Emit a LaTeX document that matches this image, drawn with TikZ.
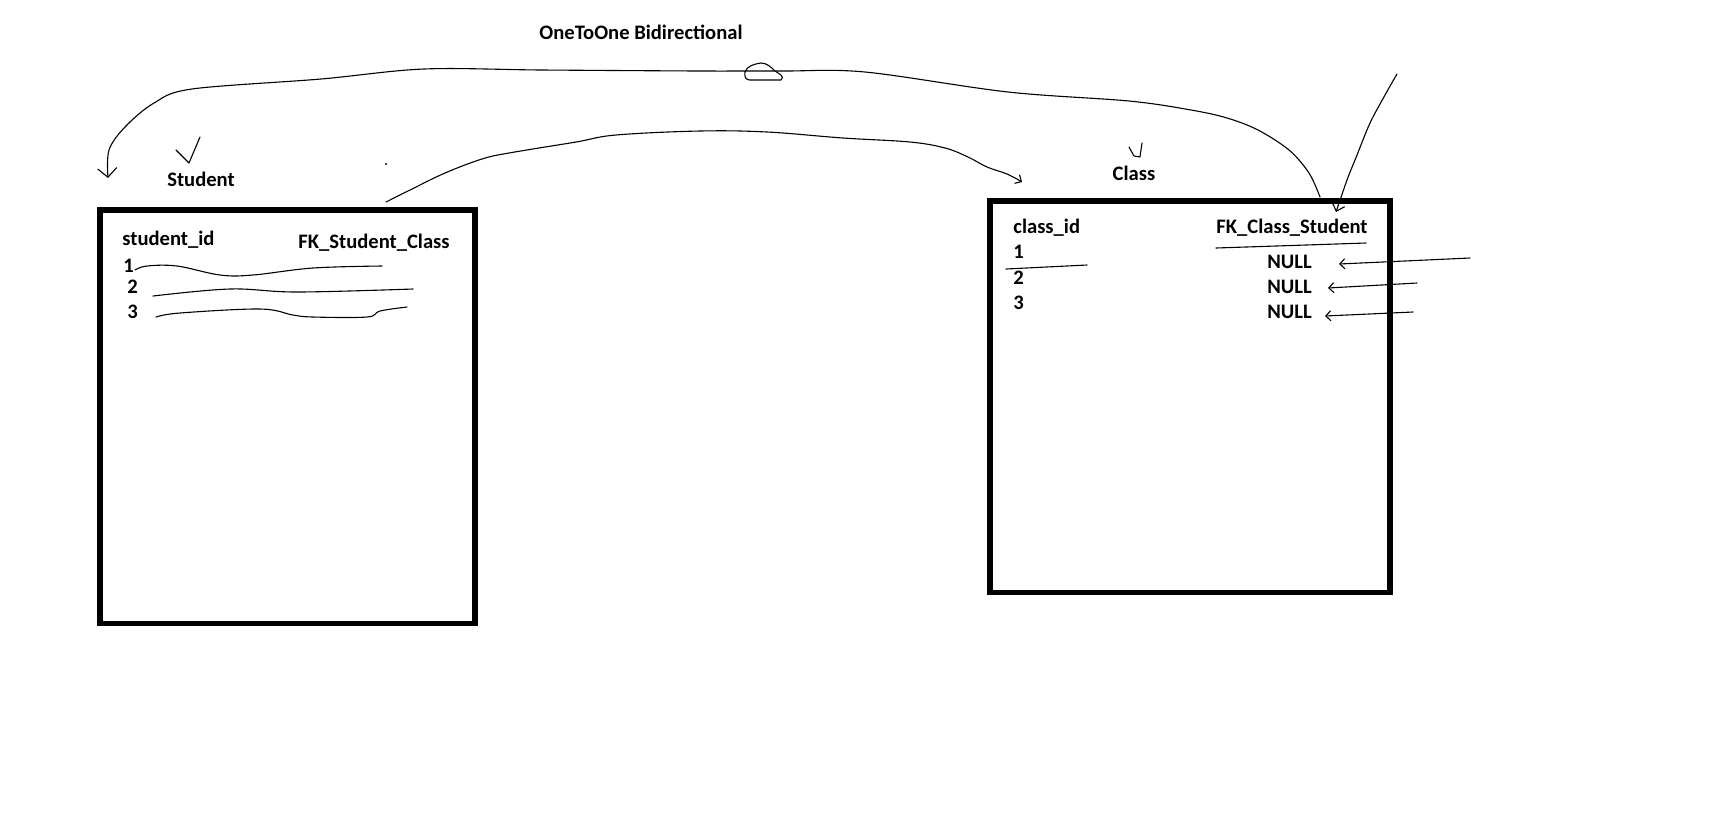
\documentclass[tikz,border=0pt]{standalone}
\usepackage{fontspec}
\setmainfont{Carlito}
\usetikzlibrary{arrows.meta}
\begin{document}
\begin{tikzpicture}[x=0.5pt,y=-0.5pt,
  lbl/.style={font=\fontsize{10.3}{12}\selectfont\bfseries, inner sep=0pt},
  tl/.style={lbl, anchor=base west},
  tbl/.style={draw, line width=2.75pt, inner sep=0pt},
  pen/.style={line width=0.55pt, line cap=round, line join=round},
  bigtip/.style={-{Straight Barb[length=4.5pt,width=9.5pt]}},
  midtip/.style={-{Straight Barb[length=3.5pt,width=6.5pt]}},
  smalltip/.style={-{Straight Barb[length=2.5pt,width=5pt]}}]
\useasboundingbox (0,0) rectangle (1730,816);
\fill[white] (0,0) rectangle (1730,816);

% tables
\node[tbl, minimum width=187.5pt, minimum height=206.75pt] (student) at (287.5,416.75) {};
\node[tbl, minimum width=200pt, minimum height=195.75pt] (class) at (1190,396.75) {};

% titles
\node[lbl] (title) at (641,32) {OneToOne Bidirectional};
\node[lbl] (studentlbl) at (201,179) {Student};
\node[lbl] (classlbl) at (1134,173) {Class};

% student table texts
\node[tl] (sid) at (122,245) {student\_id};
\node[tl] (sfk) at (298,248) {FK\_Student\_Class};
\node[tl] (s1) at (123,272) {1};
\node[tl] (s2) at (127,293) {2};
\node[tl] (s3) at (127,318) {3};

% class table texts
\node[tl] (cid) at (1013,233) {class\_id};
\node[tl] (cfk) at (1216,233) {FK\_Class\_Student};
\node[tl] (c1) at (1013,258) {1};
\node[tl] (c2) at (1013,284) {2};
\node[tl] (c3) at (1013,309) {3};
\node[tl] (n1) at (1267,268) {NULL};
\node[tl] (n2) at (1267,293) {NULL};
\node[tl] (n3) at (1267,318) {NULL};

% checkmarks
\draw[pen] (176,150) -- (189,163) -- (200,137);
\draw[pen] (1129,147) -- (1134,156) -- (1140,157) -- (1142,143);

% stray dot
\fill (386,164) circle (0.6pt);

% top arc: class -> student
\coordinate (topstart) at (1320,197);
\coordinate (toptip) at (108,178);
\draw[pen, bigtip] plot[smooth, tension=0.55] coordinates {
  (topstart) (1309,173) (1289,150) (1258,130) (1227,118) (1191,110)
  (1129,101) (1008,92) (865,72) (783,71) (700,71) (542,70) (424,69)
  (321,79) (192,89) (154,103) (125,127) (109,150) (toptip)};
% little loop on the top arc
\draw[pen] (775,71) .. controls (770,66) and (766,63) .. (761,63)
  .. controls (754,64) and (747,66) .. (745,72)
  .. controls (744,77) and (746,80) .. (750,80)
  -- (781,80) .. controls (783,79) and (783,76) .. (781,75) -- cycle;

% line from upper right down to FK_Class_Student
\coordinate (rstart) at (1397,74);
\coordinate (rtip) at (1336,212);
\draw[pen, midtip] plot[smooth, tension=0.5] coordinates {
  (rstart) (1385,95) (1370,123) (1357,155) (1347,180) (rtip)};

% middle arc: FK_Student_Class -> class table
\coordinate (mstart) at (386,202);
\coordinate (mtip) at (1022,182);
\draw[pen, smalltip] plot[smooth, tension=0.6] coordinates {
  (mstart) (410,190) (445,173) (482,159) (509,153) (576,142) (616,135)
  (700,131) (767,132) (843,138) (910,142) (945,148) (968,157) (987,167) (1007,174) (mtip)};

% student wavy row lines
\draw[pen] plot[smooth, tension=0.6] coordinates {
  (135,270) (147,266) (177,266) (220,275) (253,275) (313,268) (382,266)};
\draw[pen] plot[smooth, tension=0.6] coordinates {
  (153,296) (230,289) (297,292) (413,289)};
\draw[pen] plot[smooth, tension=0.6] coordinates {
  (156,317) (180,313) (260,309) (293,315) (313,317) (367,317) (380,311) (407,307)};

% class lines
\draw[pen] (1006,269) -- (1087,265);
\draw[pen] (1216,248) -- (1366,243);

% NULL arrows
\coordinate (a1) at (1470,258);
\coordinate (a2) at (1417,283);
\coordinate (a3) at (1413,312);
\draw[pen, smalltip] (a1) -- (1339,264);
\draw[pen, smalltip] (a2) -- (1328,288);
\draw[pen, smalltip] (a3) -- (1325,316);
\end{tikzpicture}
\end{document}
